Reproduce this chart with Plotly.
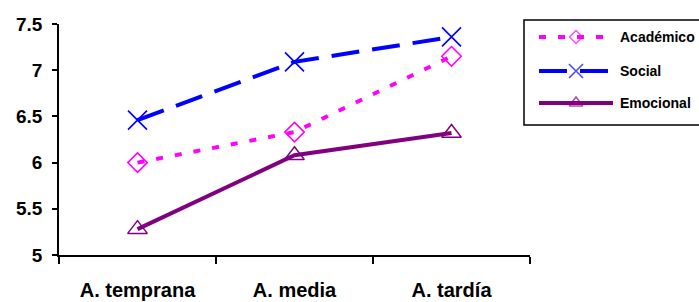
import plotly.graph_objects as go

# ---- data ----
categories = ["A. temprana", "A. media", "A. tardía"]
series_names = ["Académico", "Social", "Emocional"]
academico = [6.00, 6.33, 7.15]
social = [6.46, 7.09, 7.36]
emocional = [5.28, 6.08, 6.32]
y_ticks = [5, 5.5, 6, 6.5, 7, 7.5]

W, H = 699, 302
FONT = "Liberation Sans, Arial, sans-serif"

styles = {
    "Académico": dict(color="#FF00FF", dash="7px,12px", symbol="diamond-open", size=15, lw=1.5),
    "Social": dict(color="#0000FF", dash="28px,13px", symbol="x-thin-open", size=19, lw=1.6),
    "Emocional": dict(color="#800080", dash="solid", symbol="triangle-up-open", size=17, lw=1.5),
}
values = {"Académico": academico, "Social": social, "Emocional": emocional}

fig = go.Figure()

for name in series_names:
    s = styles[name]
    fig.add_trace(go.Scatter(
        x=categories, y=values[name], name=name, mode="lines+markers",
        line=dict(color=s["color"], width=4, dash=s["dash"]),
        marker=dict(symbol=s["symbol"], size=s["size"], color=s["color"],
                    line=dict(color=s["color"], width=s["lw"])),
        showlegend=False, cliponaxis=False,
    ))

# ---- custom legend drawn on a pixel-space overlay axis ----
leg_rows = [37, 71, 103]
leg_x0, leg_xm, leg_x1 = 539, 576, 613
for name, ry in zip(series_names, leg_rows):
    s = styles[name]
    fig.add_trace(go.Scatter(
        x=[leg_x0, leg_xm, leg_x1], y=[ry, ry, ry], mode="lines+markers",
        xaxis="x2", yaxis="y2", showlegend=False, hoverinfo="skip",
        line=dict(color=s["color"], width=4, dash=s["dash"]),
        marker=dict(symbol=s["symbol"], size=[0, s["size"] - 5, 0], color=s["color"],
                    line=dict(color=s["color"], width=s["lw"])),
        cliponaxis=False,
    ))
    fig.add_annotation(x=618, y=ry, xref="x2", yref="y2", text=name, showarrow=False,
                       xanchor="left", yanchor="middle",
                       font=dict(family=FONT, size=14, color="black", weight="bold"))

fig.add_shape(type="rect", xref="x2", yref="y2", x0=524, x1=710, y0=20, y1=125,
              line=dict(color="black", width=1.5), fillcolor="rgba(0,0,0,0)")

fig.update_layout(
    width=W, height=H,
    margin=dict(l=0, r=0, t=0, b=0),
    paper_bgcolor="white", plot_bgcolor="rgba(0,0,0,0)",
    xaxis=dict(
        domain=[59 / W, 530 / W], type="category", range=[-0.5, 2.5],
        showline=True, linecolor="black", linewidth=1.5, showgrid=False, zeroline=False,
        ticks="outside", tickson="boundaries", ticklen=7, tickwidth=1.5, tickcolor="black",
        tickfont=dict(family=FONT, size=20, color="black", weight="bold"),
        ticklabelstandoff=16, anchor="y", automargin=False,
    ),
    yaxis=dict(
        domain=[47 / H, (H - 24) / H], range=[5, 7.5], tickvals=y_ticks,
        showline=True, linecolor="black", linewidth=1.5, showgrid=False, zeroline=False,
        ticks="outside", ticklen=5, tickwidth=1.5, tickcolor="black",
        tickfont=dict(family=FONT, size=19, color="black", weight="bold"),
        ticklabelstandoff=6, anchor="x", automargin=False,
    ),
    xaxis2=dict(domain=[0, 1], range=[0, W], visible=False, anchor="y2", fixedrange=True),
    yaxis2=dict(domain=[0, 1], range=[H, 0], visible=False, anchor="x2", fixedrange=True),
)

fig.write_html("out.html", config={"displayModeBar": False},
               post_script="document.body.style.margin='0';document.body.style.overflow='hidden';")
